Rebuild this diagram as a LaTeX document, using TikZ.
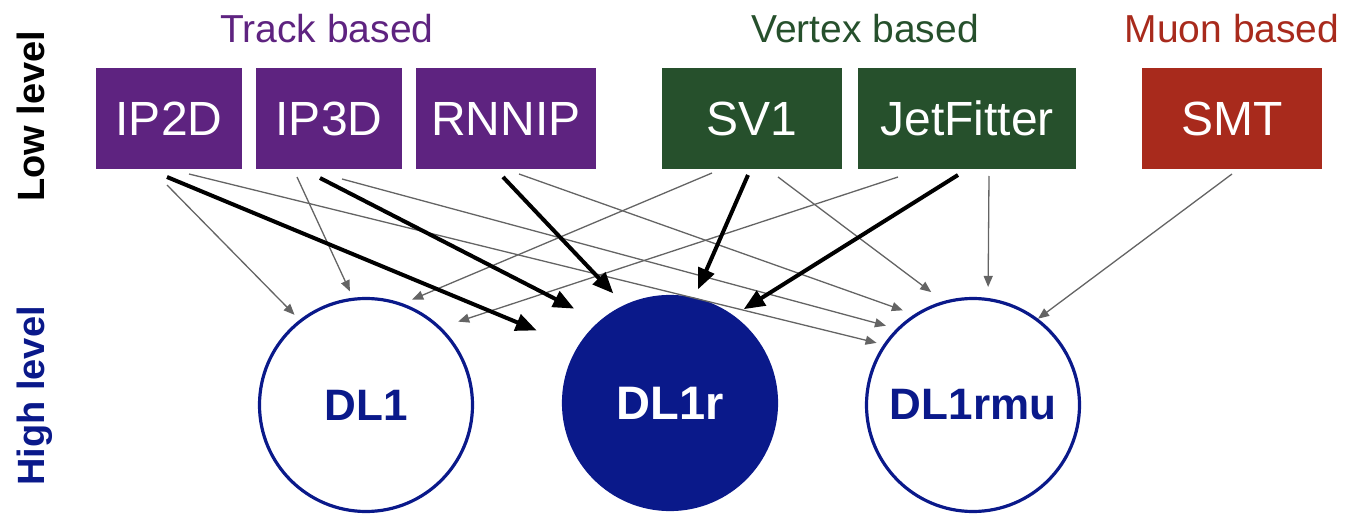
\documentclass[tikz,border=0pt]{standalone}
\usepackage{fontspec}
\setmainfont{Liberation Sans}
\usepackage{tikz}
\usetikzlibrary{positioning, arrows.meta, calc}
\definecolor{cTrack}{HTML}{5E2380}
\definecolor{cVertex}{HTML}{26502C}
\definecolor{cMuon}{HTML}{A82A1C}
\definecolor{cHigh}{HTML}{0A198A}
\definecolor{cLink}{HTML}{646464}
\tikzset{
  tagger/.style={
    rectangle, fill=#1, text=white, minimum height=101pt,
    inner sep=0pt, outer sep=0pt, font=\fontsize{48}{50}\selectfont
  },
  group/.style={
    anchor=base, inner sep=0pt, text=#1, font=\fontsize{39}{42}\selectfont
  },
  level/.style={
    rotate=90, anchor=base, inner sep=0pt, text=#1,
    font=\bfseries\fontsize{38}{40}\selectfont
  },
  highnode/.style={
    circle, draw=cHigh, line width=3.2pt, minimum size=213pt, inner sep=0pt,
    font=\bfseries\fontsize{44}{46}\selectfont
  },
  thinarrow/.style={-{Triangle[length=11pt, width=9pt]}, line width=1.3pt, color=cLink},
  thickarrow/.style={-{Triangle[length=21pt, width=17pt]}, line width=4pt, color=black},
}

\begin{document}
\begin{tikzpicture}[x=1pt, y=-1pt]
  \useasboundingbox (0,0) rectangle (1350,516);

  % low level taggers
  \node[tagger=cTrack, minimum width=146pt] (ip2d) at (169,118.5) {IP2D};
  \node[tagger=cTrack, minimum width=146pt, right=14pt of ip2d] (ip3d) {IP3D};
  \node[tagger=cTrack, minimum width=180pt, right=14pt of ip3d] (rnnip) {RNNIP};
  \node[tagger=cVertex, minimum width=180pt, right=66pt of rnnip] (sv1) {SV1};
  \node[tagger=cVertex, minimum width=218pt, right=16pt of sv1] (jetfitter) {JetFitter};
  \node[tagger=cMuon, minimum width=180pt, right=66pt of jetfitter] (smt) {SMT};

  \node[group=cTrack] (track) at (327,43) {Track based};
  \node[group=cVertex] (vertex) at (865,43) {Vertex based};
  \node[group=cMuon] (muon) at (1232,43) {Muon based};

  \node[level=black] (low) at (44,116) {Low level};
  \node[level=cHigh] (high) at (44,396) {High level};

  % high level taggers
  \node[highnode, text=cHigh] (dl1) at (366,405) {DL1};
  \node[highnode, fill=cHigh, text=white, font=\bfseries\fontsize{47}{49}\selectfont] (dl1r) at (670,403) {DL1r};
  \node[highnode, text=cHigh] (dl1rmu) at (973,405) {DL1rmu};

  % inputs of DL1
  \draw[thinarrow, shorten >=7pt] ([shift={(-2,16)}]ip2d.south) -- (dl1.128);
  \draw[thinarrow, shorten >=7pt] ([shift={(-32,8)}]ip3d.south) -- (dl1.97);
  \draw[thinarrow, shorten >=10pt] ([shift={(-40,4)}]sv1.south) -- (dl1.70);
  \draw[thinarrow, shorten >=18pt] ([shift={(-69,8)}]jetfitter.south) -- (dl1.46);

  % inputs of DL1rmu
  \draw[thinarrow, shorten >=7pt] ([shift={(20,5)}]ip2d.south) -- (dl1rmu.146);
  \draw[thinarrow, shorten >=11pt] ([shift={(13,10)}]ip3d.south) -- (dl1rmu.135);
  \draw[thinarrow, shorten >=12pt] ([shift={(13,5)}]rnnip.south) -- (dl1rmu.123);
  \draw[thinarrow, shorten >=15pt] ([shift={(26,8)}]sv1.south) -- (dl1rmu.106);
  \draw[thinarrow, shorten >=11pt] ([shift={(22,7)}]jetfitter.south) -- (dl1rmu.82);
  \draw[thinarrow] ([shift={(0,5)}]smt.south) -- (dl1rmu.53);

  % inputs of DL1r
  \draw[thickarrow, shorten >=44pt] ([shift={(-2,8)}]ip2d.south) -- (dl1r.149);
  \draw[thickarrow, shorten >=28pt] ([shift={(-9,9)}]ip3d.south) -- (dl1r.131);
  \draw[thickarrow, shorten >=16pt] ([shift={(-3,8)}]rnnip.south) -- (dl1r.115);
  \draw[thickarrow, shorten >=9pt] ([shift={(-4,6)}]sv1.south) -- (dl1r.77);
  \draw[thickarrow, shorten >=12pt] ([shift={(-9,6)}]jetfitter.south) -- (dl1r.54);

\end{tikzpicture}
\end{document}
